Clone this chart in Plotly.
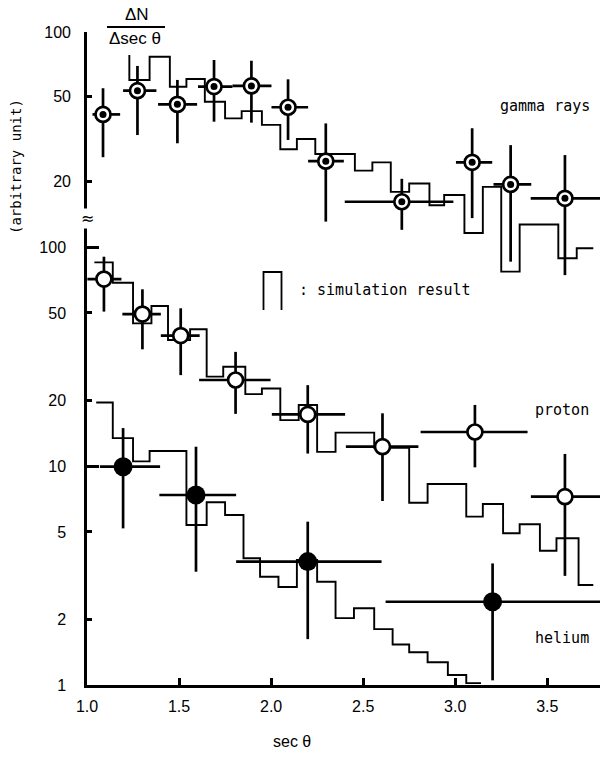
import plotly.graph_objects as go

# ---------------- data ----------------
# gamma rays (upper panel)
gamma_x = [1.087, 1.274, 1.491, 1.690, 1.893, 2.092, 2.297, 2.71, 3.092, 3.301, 3.596]
gamma_y = [41.2, 53.2, 45.9, 55.6, 56.0, 44.5, 24.9, 16.1, 24.6, 19.4, 16.7]
gamma_y_lo = [26.0, 33.0, 30.2, 38.1, 37.7, 31.3, 13.0, 11.9, 13.5, 8.45, 7.31]
gamma_y_hi = [54.6, 69.4, 59.7, 74.0, 73.4, 60.1, 37.4, 20.6, 35.5, 29.6, 26.6]
gamma_x_lo = [1.03, 1.196, 1.386, 1.603, 1.79, 2.002, 2.201, 2.40, 3.004, 3.208, 3.41]
gamma_x_hi = [1.18, 1.377, 1.598, 1.79, 2.002, 2.201, 2.395, 2.99, 3.201, 3.413, 3.9]

# proton
prot_x = [1.092, 1.301, 1.509, 1.807, 2.199, 2.605, 3.107, 3.596]
prot_y = [71.4, 49.4, 39.4, 24.7, 17.2, 12.25, 14.3, 7.24]
prot_y_lo = [50.7, 34.1, 26.0, 17.3, 11.4, 6.92, 9.86, 3.15]
prot_y_hi = [90.3, 64.1, 52.5, 33.2, 23.4, 17.4, 19.0, 11.35]
prot_x_lo = [1.002, 1.192, 1.401, 1.609, 2.004, 2.406, 2.812, 3.411]
prot_x_hi = [1.187, 1.401, 1.612, 1.997, 2.402, 2.80, 3.393, 3.9]

# helium
hel_x = [1.196, 1.592, 2.199, 3.203]
hel_y = [9.93, 7.37, 3.66, 2.40]
hel_y_lo = [5.19, 3.29, 1.62, 1.05]
hel_y_hi = [14.9, 12.25, 5.57, 3.59]
hel_x_lo = [1.07, 1.393, 1.81, 2.622]
hel_x_hi = [1.397, 1.81, 2.60, 3.9]

# simulation histograms (bin edges and levels)
gamma_sim_start = 78.1
gamma_sim_edges = [1.23, 1.34, 1.45, 1.54, 1.64, 1.75, 1.84, 1.95, 2.05, 2.14, 2.24, 2.455,
                   2.55, 2.65, 2.75, 2.86, 2.94, 3.05, 3.15, 3.25, 3.35, 3.56, 3.66, 3.75]
gamma_sim_levels = [59.7, 76.6, 55.5, 60.3, 47.2, 39.5, 42.7, 36.8, 28.3, 31.6, 26.9, 22.5,
                    24.6, 17.9, 19.6, 15.5, 17.3, 11.5, 18.9, 7.59, 12.6, 8.76, 9.76]

prot_sim_edges = [1.04, 1.14, 1.25, 1.35, 1.44, 1.56, 1.65, 1.74, 1.86, 1.95, 2.05, 2.15, 2.25,
                  2.35, 2.56, 2.75, 2.85, 3.06, 3.15, 3.26, 3.35, 3.46, 3.55, 3.67, 3.75]
prot_sim_levels = [85.1, 68.7, 44.8, 53.8, 37.6, 42.1, 25.6, 28.4, 21.3, 22.6, 16.2, 19.0,
                   11.6, 14.2, 12.1, 6.80, 8.28, 5.87, 6.71, 4.93, 5.42, 4.10, 4.68, 2.86]

hel_sim_edges = [1.05, 1.14, 1.25, 1.34, 1.54, 1.65, 1.75, 1.85, 1.94, 2.04, 2.14, 2.25, 2.35,
                 2.45, 2.56, 2.66, 2.75, 2.85, 2.96, 3.06, 3.14]
hel_sim_levels = [19.5, 13.4, 10.5, 11.7, 5.38, 6.83, 5.97, 3.79, 3.12, 2.80, 3.72, 2.96,
                  2.02, 2.24, 1.80, 1.53, 1.41, 1.27, 1.11, 1.02]

x_ticks = [1.0, 1.5, 2.0, 2.5, 3.0, 3.5]
x_ticktext = ["1.0", "1.5", "2.0", "2.5", "3.0", "3.5"]
low_ticks = [1, 2, 5, 10, 20, 50, 100]
up_ticks = [20, 50, 100]

# ---------------- figure ----------------
W, H = 600, 759
L, R, T, B = 87, 600, 32, 685
X_RANGE = [1.0, 1.0 + (R - 87.3) / 184.0]
LOW_RANGE = [0.0, (B - T) / 219.0]
UP_RANGE = [2.0 - (B - T) / 214.0, 2.0]

SANS = "Liberation Sans, Arial, sans-serif"
TICKFONT = dict(family=SANS, size=16, color="black")
MONO = "DejaVu Sans Mono, monospace"


def px_x(px):
    return (px - L) / (R - L)


def px_y(py):
    return (B - py) / (B - T)


def err(vals, lo, hi):
    return ([h - v for v, h in zip(vals, hi)], [v - l for v, l in zip(vals, lo)])


fig = go.Figure()


def hist_trace(edges, levels, yaxis, start=None):
    xs = list(edges)
    ys = list(levels) + [levels[-1]]
    if start is not None:
        xs = [edges[0]] + xs
        ys = [start] + ys
    return go.Scatter(x=xs, y=ys, mode="lines", line=dict(color="black", width=1.9, shape="hv"),
                      yaxis=yaxis, showlegend=False, hoverinfo="skip")


fig.add_trace(hist_trace(gamma_sim_edges, gamma_sim_levels, "y2", start=gamma_sim_start))
fig.add_trace(hist_trace(prot_sim_edges, prot_sim_levels, "y"))
fig.add_trace(hist_trace(hel_sim_edges, hel_sim_levels, "y"))


def points(xv, yv, xlo, xhi, ylo, yhi, yaxis, marker):
    ep, em = err(yv, ylo, yhi)
    xp, xm = err(xv, xlo, xhi)
    return go.Scatter(
        x=xv, y=yv, mode="markers", yaxis=yaxis, showlegend=False,
        marker=marker,
        error_y=dict(type="data", symmetric=False, array=ep, arrayminus=em,
                     color="black", thickness=2.7, width=0),
        error_x=dict(type="data", symmetric=False, array=xp, arrayminus=xm,
                     color="black", thickness=2.7, width=0),
    )


open_marker = dict(symbol="circle", size=15, color="white", line=dict(color="black", width=2.7))

fig.add_trace(points(gamma_x, gamma_y, gamma_x_lo, gamma_x_hi, gamma_y_lo, gamma_y_hi, "y2", open_marker))
fig.add_trace(go.Scatter(x=gamma_x, y=gamma_y, mode="markers", yaxis="y2", showlegend=False,
                         marker=dict(symbol="circle", size=7, color="black")))
fig.add_trace(points(prot_x, prot_y, prot_x_lo, prot_x_hi, prot_y_lo, prot_y_hi, "y", open_marker))
fig.add_trace(points(hel_x, hel_y, hel_x_lo, hel_x_hi, hel_y_lo, hel_y_hi, "y",
                     dict(symbol="circle", size=19, color="black")))

# empty traces so that the long-tick overlay axes are drawn
fig.add_trace(go.Scatter(x=[None], y=[None], yaxis="y3", showlegend=False))
fig.add_trace(go.Scatter(x=[None], y=[None], yaxis="y4", showlegend=False))

common_y = dict(showgrid=False, zeroline=False, ticks="inside", tickcolor="black", tickwidth=2.5,
                tickfont=TICKFONT, type="log")

fig.update_layout(
    width=W, height=H,
    margin=dict(l=L, r=W - R, t=T, b=H - B, pad=0),
    paper_bgcolor="white", plot_bgcolor="white",
    showlegend=False,
    xaxis=dict(range=X_RANGE, showgrid=False, zeroline=False, showline=True, linecolor="black",
               linewidth=2.5, ticks="inside", ticklen=7, tickwidth=2.5, tickcolor="black",
               tickvals=x_ticks, ticktext=x_ticktext, tickfont=TICKFONT, ticklabelstandoff=5,
               anchor="y"),
    yaxis=dict(range=LOW_RANGE, tickvals=low_ticks, ticktext=[str(v) for v in low_ticks],
               ticklen=5, showline=True, linecolor="black", linewidth=2.5, anchor="x",
               ticklabelstandoff=15, **common_y),
    yaxis2=dict(range=UP_RANGE, tickvals=up_ticks, ticktext=[str(v) for v in up_ticks],
                ticklen=5, showline=False, overlaying="y", side="left", anchor="x",
                ticklabelstandoff=15, **common_y),
    yaxis3=dict(range=LOW_RANGE, tickvals=[10, 100], ticklen=12, showticklabels=False,
                showline=False, overlaying="y", side="left", anchor="x", **common_y),
    yaxis4=dict(range=UP_RANGE, tickvals=[100], ticklen=12, showticklabels=False,
                showline=False, overlaying="y", side="left", anchor="x", **common_y),
)


def label(text, px, py, family, size, xanchor="center", **kw):
    return dict(text=text, x=px_x(px), y=px_y(py), xref="paper", yref="paper", showarrow=False,
                xanchor=xanchor, yanchor="middle", font=dict(family=family, size=size, color="black"),
                **kw)


ann = [
    label("ΔN", 137, 15, SANS, 17),
    label("Δsec θ", 135, 38, SANS, 17),
    label("gamma rays", 545, 106, MONO, 15),
    label(": simulation result", 297, 290, MONO, 15, xanchor="left"),
    label("proton", 562, 410, MONO, 15),
    label("helium", 562, 638, MONO, 15),
    label("sec θ", 292, 741, SANS, 16),
    label("(arbitrary unit)", 16, 167, MONO, 14, textangle=-90),
    label("≈", 87, 218, "DejaVu Sans, sans-serif", 16, bgcolor="white", borderpad=0),
]
fig.update_layout(annotations=ann)

# fraction bar and legend glyph for the simulation histogram
fig.add_shape(type="line", xref="paper", yref="paper", x0=px_x(107), x1=px_x(165),
              y0=px_y(27), y1=px_y(27), line=dict(color="black", width=1.8))
fig.add_shape(type="path", xref="paper", yref="paper",
              path="M {a},{b} L {a},{c} L {d},{c} L {d},{b}".format(
                  a=px_x(263.5), b=px_y(310), c=px_y(272), d=px_x(281.5)),
              line=dict(color="black", width=1.8))

fig.write_html("out.html")
